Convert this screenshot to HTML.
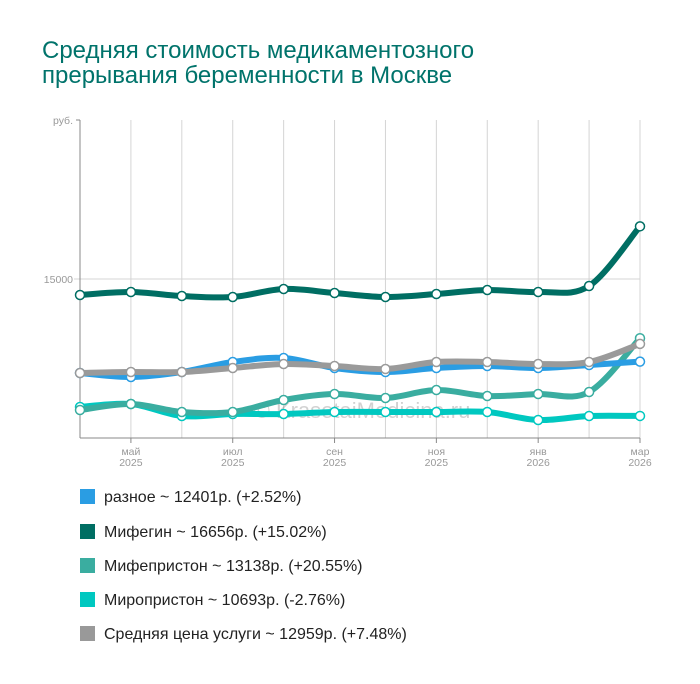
<!DOCTYPE html>
<html><head><meta charset="utf-8"><style>
body{margin:0;background:#fff;font-family:"Liberation Sans",sans-serif}
#wrap{position:relative;width:700px;height:684px}
h1{position:absolute;left:42px;top:38px;margin:0;font-weight:normal;font-size:24px;line-height:25px;color:#00736b;white-space:nowrap}
.leg{position:absolute;left:80px;font-size:16px;color:#222;height:18px;line-height:18px}
.leg span{display:inline-block;width:15px;height:15px;vertical-align:-2px;margin-right:9px}
</style></head><body><div id="wrap">
<h1>Средняя стоимость медикаментозного<br>прерывания беременности в Москве</h1>
<svg id="svg" width="700" height="684" style="position:absolute;left:0;top:0"></svg>
<div class="leg" style="top:489px"><span style="background:#2a9de3"></span>разное ~ 12401р. (+2.52%)</div>
<div class="leg" style="top:524px"><span style="background:#006e63"></span>Мифегин ~ 16656р. (+15.02%)</div>
<div class="leg" style="top:558px"><span style="background:#3aada0"></span>Мифепристон ~ 13138р. (+20.55%)</div>
<div class="leg" style="top:592px"><span style="background:#00c8c0"></span>Миропристон ~ 10693р. (-2.76%)</div>
<div class="leg" style="top:626px"><span style="background:#999"></span>Средняя цена услуги ~ 12959р. (+7.48%)</div>
</div>
<script>
const months=["апр","май","июн","июл","авг","сен","окт","ноя","дек","янв","фев","мар"];
const years=["2025","2025","2025","2025","2025","2025","2025","2025","2025","2026","2026","2026"];
const yTicks=[15000];
const mifegin=[14497,14591,14465,14434,14686,14560,14434,14528,14654,14591,14780,16656];
const raznoe=[12044,11918,12075,12390,12516,12201,12075,12201,12264,12201,12296,12401];
const average=[12044,12075,12075,12201,12327,12264,12170,12390,12390,12327,12390,12959];
const mifepriston=[10880,11069,10818,10818,11195,11384,11258,11509,11321,11384,11447,13138];
const miropriston=[10975,11069,10692,10755,10755,10818,10818,10818,10818,10566,10692,10693];
const X0=80,X1=640,Y0=438,Y1=120,VMIN=10000,VMAX=20000;
const x=i=>X0+(X1-X0)*i/(months.length-1);
const y=v=>Y0-(v-VMIN)/(VMAX-VMIN)*(Y0-Y1);
const svg=document.getElementById('svg');const NS="http://www.w3.org/2000/svg";
function mk(t,a,p){const e=document.createElementNS(NS,t);for(const k in a)e.setAttribute(k,a[k]);(p||svg).appendChild(e);return e;}
for(let i=1;i<months.length;i++){const g=mk('line',{x1:x(i),x2:x(i),y1:Y1,y2:Y0,stroke:'#d4d4d4'});

}
yTicks.forEach(t=>{const g=mk('line',{x1:X0-6,x2:X1,y1:y(t),y2:y(t),stroke:'#d4d4d4'});


const l=mk('text',{x:X0-7,y:y(t)+4,'text-anchor':'end','font-size':10.5,fill:'#999'});l.textContent=t;

});
const u=mk('text',{x:X0-7,y:Y1+4,'text-anchor':'end','font-size':10.5,fill:'#999'});u.textContent='руб.';


mk('line',{x1:X0,x2:X0,y1:Y1,y2:Y0,stroke:'#888'});mk('line',{x1:X0-4,x2:X0,y1:Y1,y2:Y1,stroke:'#888'});
mk('line',{x1:X0,x2:X1,y1:Y0,y2:Y0,stroke:'#888'});
for(let i=1;i<months.length;i+=2){mk('line',{x1:x(i),x2:x(i),y1:Y0,y2:Y0+5,stroke:'#888'});
const t=mk('text',{x:x(i),y:Y0+17,'text-anchor':'middle','font-size':10.5,fill:'#999'});t.textContent=months[i];


const t2=mk('text',{x:x(i),y:Y0+28,'text-anchor':'middle','font-size':10.5,fill:'#999'});t2.textContent=years[i];

}
const wm=mk('text',{x:362,y:418,'text-anchor':'middle','font-size':22,fill:'#000','fill-opacity':0.18});wm.textContent='© KrasotaiMedicina.ru';


function path(d){const p=d.map((v,i)=>[x(i),y(v)]);let s=`M${p[0][0]},${p[0][1]}`;
for(let i=0;i<p.length-1;i++){const a=p[Math.max(0,i-1)],b=p[i],c=p[i+1],e=p[Math.min(p.length-1,i+2)];
s+=`C${b[0]+(c[0]-a[0])/6},${b[1]+(c[1]-a[1])/6} ${c[0]-(e[0]-b[0])/6},${c[1]-(e[1]-b[1])/6} ${c[0]},${c[1]}`;}return s;}
const series=[[miropriston,'#00c8c0','miropriston'],[mifepriston,'#3aada0','mifepriston'],[raznoe,'#2a9de3','raznoe'],[average,'#9a9a9a','average'],[mifegin,'#006e63','mifegin']];
series.forEach(([d,c,n])=>{const l=mk('path',{d:path(d),fill:'none',stroke:c,'stroke-width':6,'stroke-linecap':'round'});


d.forEach((v,i)=>{const m=mk('circle',{cx:x(i),cy:y(v),r:4.5,fill:'#fff',stroke:c,'stroke-width':1.5});

});});
</script></body></html>
